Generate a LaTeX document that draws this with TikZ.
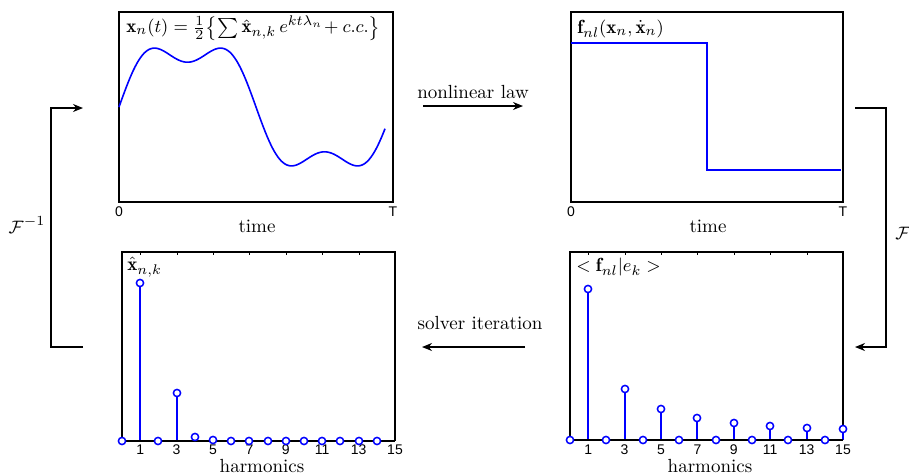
\documentclass[tikz,border=0pt]{standalone}
\usepackage{fontspec}
\newfontfamily\tickfont{Liberation Sans}
\usetikzlibrary{arrows.meta}
\begin{document}
\begin{tikzpicture}[x=0.5pt,y=-0.5pt,
  frame/.style={draw=black,line width=0.6pt},
  axisline/.style={draw=black,line width=1pt},
  curve/.style={draw=blue,line width=0.8pt},
  stemline/.style={draw=blue,line width=0.8pt},
  marker/.style={draw=blue,line width=0.75pt,fill=white},
  flow/.style={-{Stealth[length=5pt,width=4pt]},line width=0.7pt},
  lbl/.style={font=\fontsize{9.5}{11}\selectfont,inner sep=0pt},
  ticklbl/.style={font=\tickfont\fontsize{7}{8}\selectfont,inner sep=0pt}]
\useasboundingbox (0,0) rectangle (909,473);

% ---------- top left: time signal ----------
\coordinate (A0) at (119,12);
\coordinate (A1) at (393,202);
\draw[frame] (A0) rectangle (A1);
\draw[curve] plot[domain=0:0.971,samples=150,variable=\t]
  ({119+274*\t},{107-64*(sin(360*\t)+0.3*sin(1080*\t))});
\node[lbl,anchor=west] (Alab) at (126,28)
  {$\mathbf{x}_n(t)=\frac{1}{2}\bigl\{\sum\hat{\mathbf{x}}_{n,k}\,e^{kt\lambda_n}\!+c.c.\bigr\}$};
\node[ticklbl] (Azero) at (119,212) {0};
\node[ticklbl] (AT) at (393,212) {T};
\node[lbl] (Atime) at (257,226) {time};

% ---------- top right: nonlinear force ----------
\coordinate (B0) at (571,12);
\coordinate (B1) at (843,202);
\draw[frame] (B0) rectangle (B1);
\draw[curve] (571,43) -- (707,43) -- (707,170) -- (841,170);
\node[lbl,anchor=west] (Blab) at (577,29) {$\mathbf{f}_{nl}(\mathbf{x}_n,\dot{\mathbf{x}}_n)$};
\node[ticklbl] (Bzero) at (571,212) {0};
\node[ticklbl] (BT) at (843,212) {T};
\node[lbl] (Btime) at (708,226) {time};

% ---------- bottom left: harmonics of x ----------
\coordinate (C0) at (122,252);
\coordinate (C1) at (395,441);
\draw[frame] (122,441) -- (C0) -- (395,252) -- (C1);
\foreach \k in {1,3,...,15} {
  \draw[line width=0.4pt] ({round(122+18.2*\k)},252) -- ++(0,3);
  \node[ticklbl] at ({122+18.2*\k},450) {\k};
}
\foreach \k/\y in {0/441,1/283,2/441,3/393,4/437,5/440,6/441,7/441,8/441,9/441,10/441,11/441,12/441,13/441,14/441} {
  \draw[stemline] ({round(122+18.2*\k)},441) -- ({round(122+18.2*\k)},\y);
}
\draw[axisline] (122,441) -- (C1);
\foreach \k/\y in {0/441,1/283,2/441,3/393,4/437,5/440,6/441,7/441,8/441,9/441,10/441,11/441,12/441,13/441,14/441} {
  \draw[marker] ({round(122+18.2*\k)},\y) circle[radius=1.8pt];
}
\node[lbl,anchor=west] (Clab) at (127,267) {$\hat{\mathbf{x}}_{n,k}$};
\node[lbl] (Charm) at (262,465.5) {harmonics};

% ---------- bottom right: harmonics of f ----------
\coordinate (D0) at (570,252);
\coordinate (D1) at (843,440);
\draw[frame] (570,440) -- (D0) -- (843,252) -- (D1);
\foreach \k in {1,3,...,15} {
  \draw[line width=0.4pt] ({round(570+18.2*\k)},252) -- ++(0,3);
  \node[ticklbl] at ({570+18.2*\k},450) {\k};
}
\foreach \k/\y in {0/440,1/289,2/440,3/389,4/440,5/409,6/440,7/418,8/440,9/423,10/440,11/426,12/440,13/428,14/440,15/429} {
  \draw[stemline] ({round(570+18.2*\k)},440) -- ({round(570+18.2*\k)},\y);
}
\draw[axisline] (570,440) -- (D1);
\foreach \k/\y in {0/440,1/289,2/440,3/389,4/440,5/409,6/440,7/418,8/440,9/423,10/440,11/426,12/440,13/428,14/440,15/429} {
  \draw[marker] ({round(570+18.2*\k)},\y) circle[radius=1.8pt];
}
\node[lbl,anchor=west] (Dlab) at (576,267) {$<\mathbf{f}_{nl}|e_k>$};
\node[lbl] (Dharm) at (710,465.5) {harmonics};

% ---------- connectors ----------
\coordinate (nlA) at (423,106);
\coordinate (nlB) at (523,106);
\draw[flow] (nlA) -- (nlB);
\node[lbl] (nlLab) at (473,92) {nonlinear law};

\coordinate (siA) at (525,347);
\coordinate (siB) at (422,347);
\draw[flow] (siA) -- (siB);
\node[lbl] (siLab) at (480,323) {solver iteration};

\coordinate (fwdIn) at (855,108);
\coordinate (fwdOut) at (855,347);
\draw[flow] (fwdIn) -- ++(31,0) |- (fwdOut);
\node[lbl] (fwdLab) at (903,233) {$\mathcal{F}$};

\coordinate (invIn) at (83,347);
\coordinate (invOut) at (83,108);
\draw[flow] (invIn) -- ++(-32,0) |- (invOut);
\node[lbl] (invLab) at (27,225) {$\mathcal{F}^{-1}$};
\end{tikzpicture}
\end{document}
